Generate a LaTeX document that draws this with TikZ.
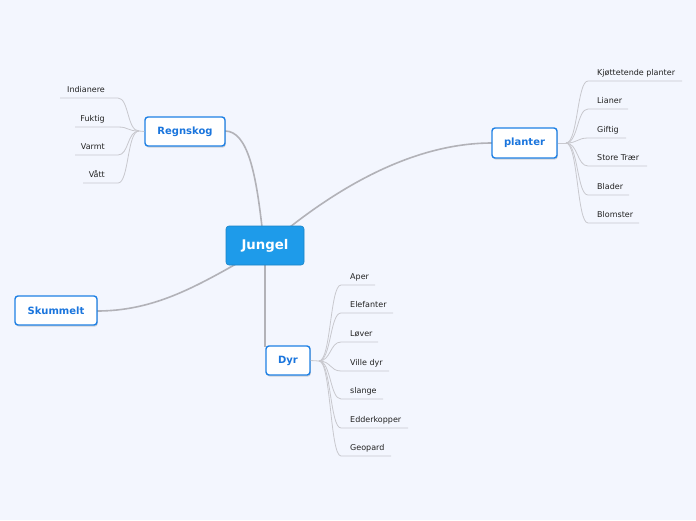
\documentclass[tikz,border=0pt]{standalone}
\usepackage{fontspec}
\setmainfont{DejaVu Sans}
\usetikzlibrary{shadows}
\definecolor{bg}{HTML}{F3F6FE}
\definecolor{mainblue}{HTML}{1E9BEA}
\definecolor{boxblue}{HTML}{1E80E4}
\definecolor{txtblue}{HTML}{1A75DD}
\definecolor{conn}{HTML}{B2B2B8}
\definecolor{leafc}{HTML}{C8C8CE}
\definecolor{leaftxt}{HTML}{222222}
\tikzset{
  central/.style={draw=mainblue!85!black, line width=0.6pt, fill=mainblue, rounded corners=3pt, inner sep=0pt,
    text=white, font=\fontsize{13.3}{15}\selectfont\bfseries},
  topic/.style={draw=boxblue, line width=1.4pt, fill=white, rounded corners=3pt, inner sep=0pt,
    text=txtblue, font=\fontsize{10}{12}\selectfont\bfseries,
    drop shadow={shadow xshift=0.8pt, shadow yshift=-1.6pt, opacity=0.25, fill=black!60}},
  leaf/.style={inner sep=0pt, text=leaftxt, font=\fontsize{8}{10}\selectfont},
  mainline/.style={draw=conn, line width=1.6pt},
  leafline/.style={draw=leafc, line width=0.8pt},
}
\begin{document}
\begin{tikzpicture}[x=1pt,y=-1pt]
\path[fill=bg] (0,0) rectangle (696,520);
\useasboundingbox (0,0) rectangle (696,520);

% main connectors (drawn first)
\coordinate (jr) at (262,227);
\coordinate (jp) at (290,227);
\coordinate (js) at (236,264);
\coordinate (jd) at (265,264);
\coordinate (rs) at (225,131);
\coordinate (pw) at (492,143);
\coordinate (sw) at (97,311);
\coordinate (dn) at (265,347);
\draw[mainline] (jr) .. controls (256,175) and (248,131) .. (rs);
\draw[mainline] (jp) .. controls (350,180) and (420,143) .. (pw);
\draw[mainline] (js) .. controls (190,290) and (150,311) .. (sw);
\draw[mainline] (jd) -- (dn);

% nodes
\node[central, minimum width=78pt, minimum height=39pt] (jungel) at (265,245.5) {Jungel};
\node[topic, minimum width=80pt, minimum height=29pt] (regnskog) at (185,131.5) {Regnskog};
\node[topic, minimum width=65pt, minimum height=30pt] (planter) at (524.5,143) {planter};
\node[topic, minimum width=82pt, minimum height=29pt] (skummelt) at (56,310.5) {Skummelt};
\node[topic, minimum width=44pt, minimum height=29pt] (dyr) at (288,360.5) {Dyr};

% hubs
\coordinate (rhub) at (139,131);
\coordinate (phub) at (566,143);
\coordinate (dhub) at (319,361);
\draw[leafline] (regnskog.west) -- (rhub);
\draw[leafline] (planter.east) -- (phub);
\draw[leafline] (dyr.east) -- (dhub);

% Regnskog leaves
\foreach \nm/\txt/\y/\xl in {ri/Indianere/98/60, rf/Fuktig/127/75, rv/Varmt/155/75, rw/Vått/183/83}{
  \coordinate (\nm-s) at (118,\y);
  \coordinate (\nm-e) at (\xl,\y);
  \node[leaf, anchor=base east] (\nm) at (105,\y-5.5) {\txt};
  \draw[leafline] (rhub) .. controls (127,131) and (129,\y) .. (\nm-s) -- (\nm-e);
}

% planter leaves
\foreach \nm/\txt/\y/\xr in {pk/Kjøttetende planter/81/682, pl/Lianer/109/628, pg/Giftig/138/626, ps/Store Trær/166/647, pb/Blader/195/629, pm/Blomster/223/639}{
  \coordinate (\nm-s) at (588,\y);
  \coordinate (\nm-e) at (\xr,\y);
  \node[leaf, anchor=base west] (\nm) at (597,\y-5.5) {\txt};
  \draw[leafline] (phub) .. controls (578,143) and (577,\y) .. (\nm-s) -- (\nm-e);
}

% Dyr leaves
\foreach \nm/\txt/\y/\xr in {da/Aper/285/375, de/Elefanter/313/393, dl/Løver/342/378, dv/Ville dyr/371/389, ds/slange/399/383, dk/Edderkopper/428/408, dg/Geopard/456/391}{
  \coordinate (\nm-s) at (341,\y);
  \coordinate (\nm-e) at (\xr,\y);
  \node[leaf, anchor=base west] (\nm) at (350,\y-5.5) {\txt};
  \draw[leafline] (dhub) .. controls (331,361) and (330,\y) .. (\nm-s) -- (\nm-e);
}
\end{tikzpicture}
\end{document}
